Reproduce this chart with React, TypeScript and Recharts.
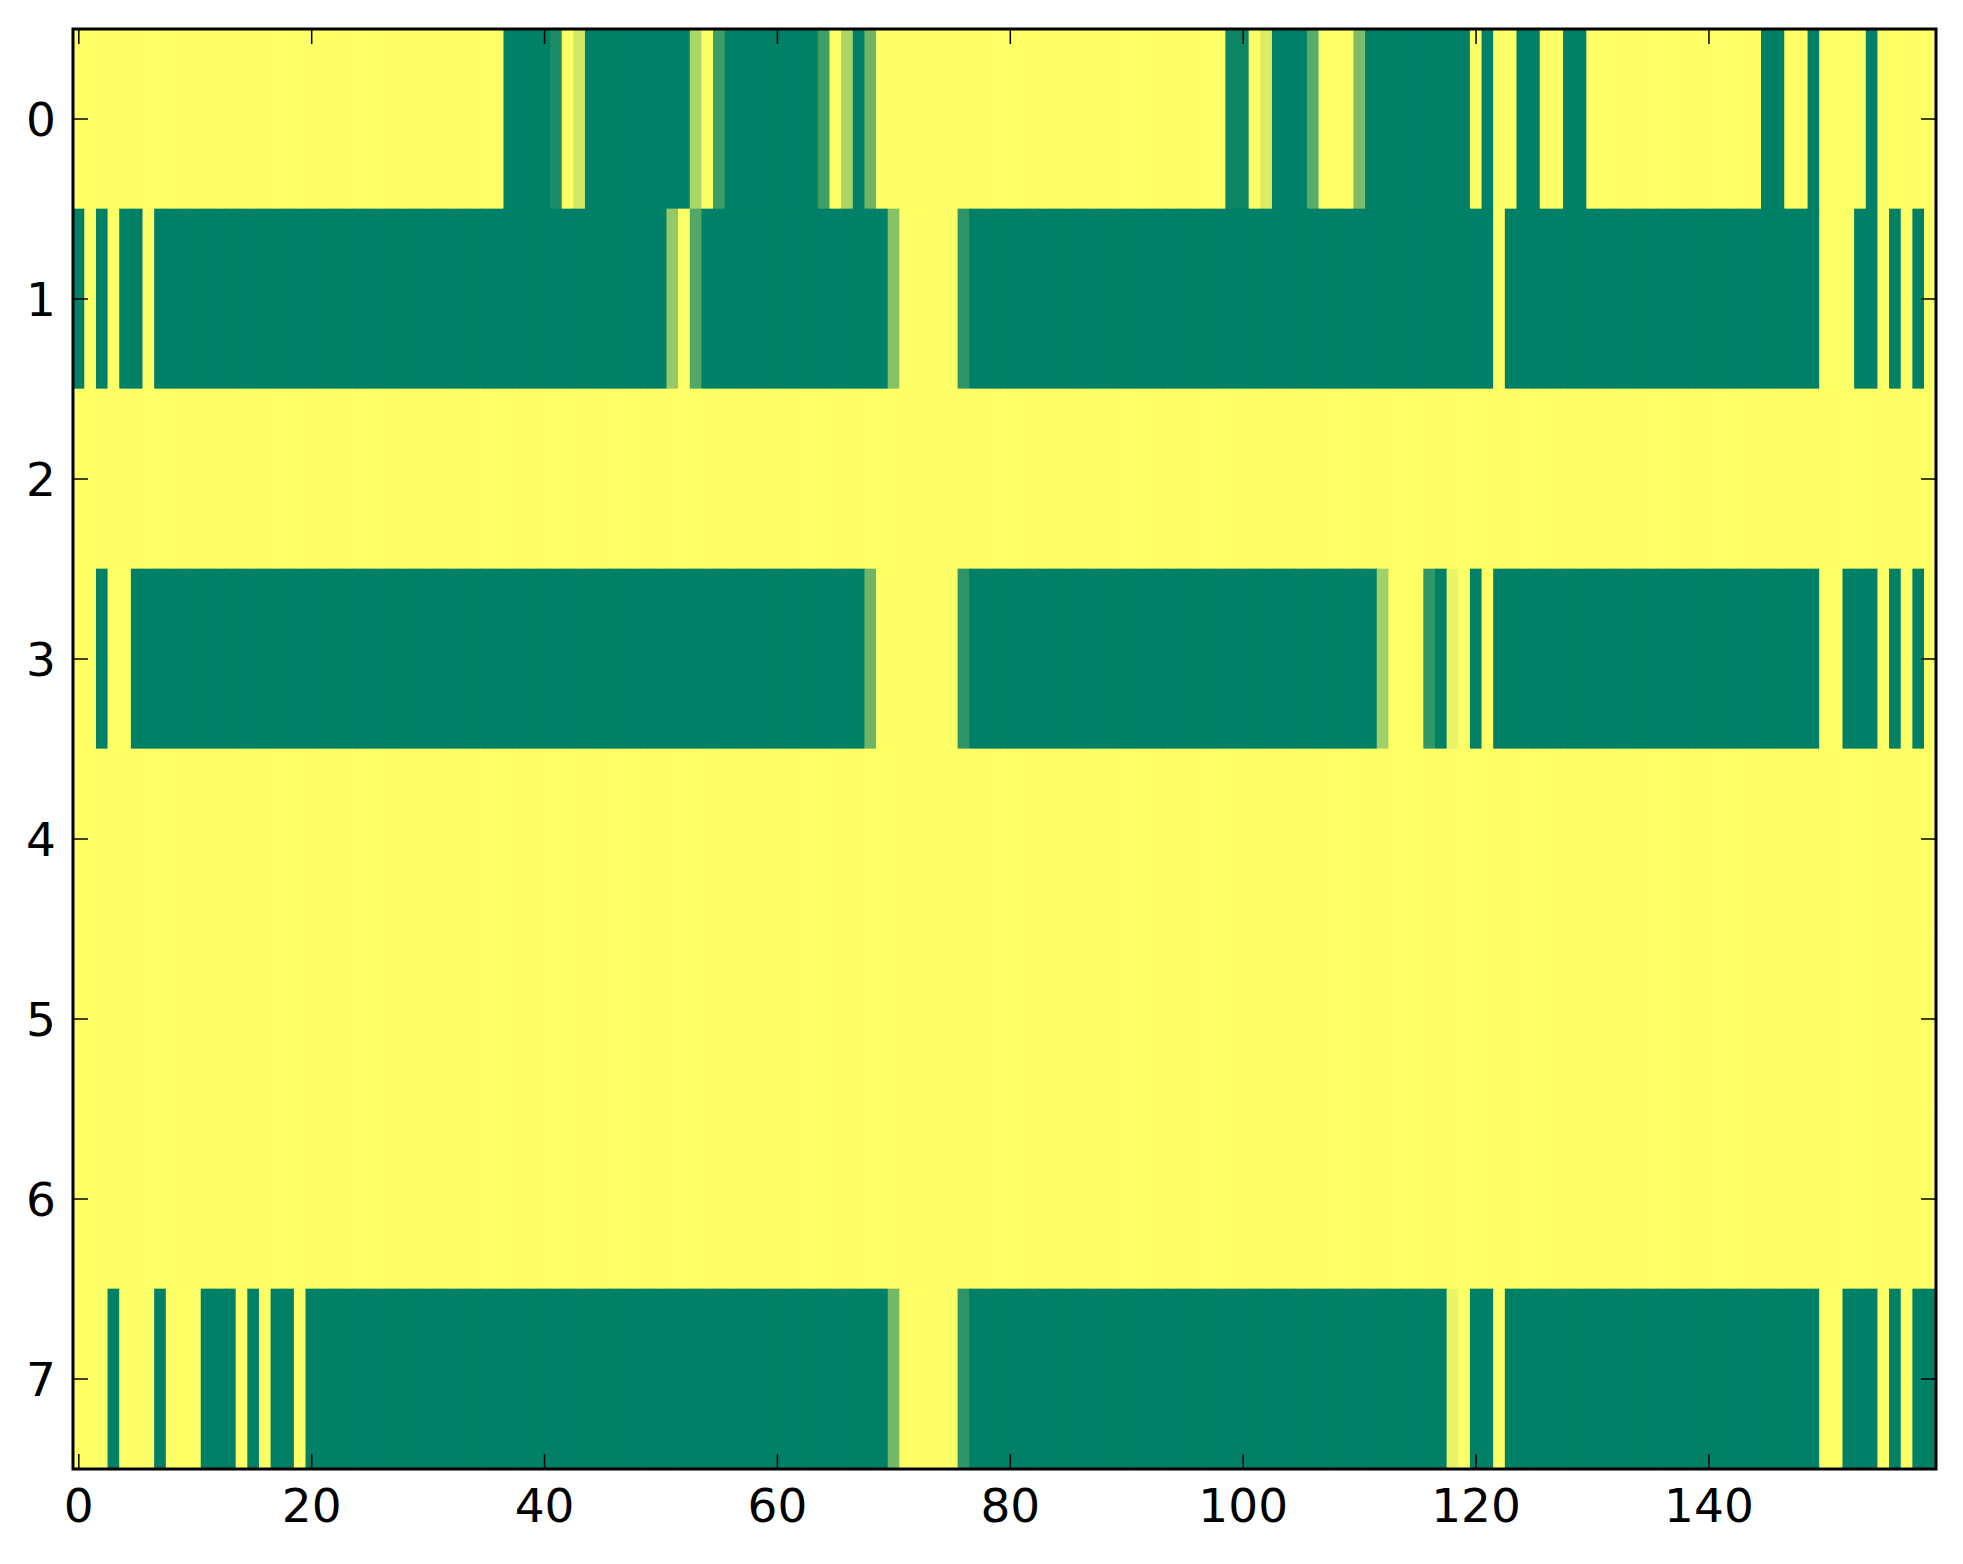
import React from 'react';
import { ScatterChart, Scatter, XAxis, YAxis } from 'recharts';

// ---- data: heatmap values (0 = dark green, 1 = yellow), one array per row ----
const row0 = [
  1,1,1,1,1,1,1,1,1,1,1,1,1,1,1,1,1,1,1,1,
  1,1,1,1,1,1,1,1,1,1,1,1,1,1,1,1,1,0,0,0,
  0,0.1,1,0.82,0,0,0,0,0,0,0,0,0,0.67,1,0.24,0,0,0,0,
  0,0,0,0,0.24,1,0.67,0,0.43,1,1,1,1,1,1,1,1,1,1,1,
  1,1,1,1,1,1,1,1,1,1,1,1,1,1,1,1,1,1,1,0.05,
  0.05,1,0.86,0,0,0,0.35,1,1,1,0.48,0,0,0,0,0,0,0,0,0,
  1,0,1,1,0,0,1,1,0,0,1,1,1,1,1,1,1,1,1,1,
  1,1,1,1,1,0,0,1,1,0,1,1,1,1,0,1,1,1,1,1,
];
const row1 = [
  0,1,0,1,0,0,1,0,0,0,0,0,0,0,0,0,0,0,0,0,
  0,0,0,0,0,0,0,0,0,0,0,0,0,0,0,0,0,0,0,0,
  0,0,0,0,0,0,0,0,0,0,0,0.58,1,0.32,0,0,0,0,0,0,
  0,0,0,0,0,0,0,0,0,0,0.53,1,1,1,1,1,0.18,0,0,0,
  0,0,0,0,0,0,0,0,0,0,0,0,0,0,0,0,0,0,0,0,
  0,0,0,0,0,0,0,0,0,0,0,0,0,0,0,0,0,0,0,0,
  0,0,1,0,0,0,0,0,0,0,0,0,0,0,0,0,0,0,0,0,
  0,0,0,0,0,0,0,0,0,0,1,1,1,0,0,1,0,1,0,1,
];
const row2 = [
  1,1,1,1,1,1,1,1,1,1,1,1,1,1,1,1,1,1,1,1,
  1,1,1,1,1,1,1,1,1,1,1,1,1,1,1,1,1,1,1,1,
  1,1,1,1,1,1,1,1,1,1,1,1,1,1,1,1,1,1,1,1,
  1,1,1,1,1,1,1,1,1,1,1,1,1,1,1,1,1,1,1,1,
  1,1,1,1,1,1,1,1,1,1,1,1,1,1,1,1,1,1,1,1,
  1,1,1,1,1,1,1,1,1,1,1,1,1,1,1,1,1,1,1,1,
  1,1,1,1,1,1,1,1,1,1,1,1,1,1,1,1,1,1,1,1,
  1,1,1,1,1,1,1,1,1,1,1,1,1,1,1,1,1,1,1,1,
];
const row3 = [
  1,1,0,1,1,0,0,0,0,0,0,0,0,0,0,0,0,0,0,0,
  0,0,0,0,0,0,0,0,0,0,0,0,0,0,0,0,0,0,0,0,
  0,0,0,0,0,0,0,0,0,0,0,0,0,0,0,0,0,0,0,0,
  0,0,0,0,0,0,0,0,0.43,1,1,1,1,1,1,1,0.18,0,0,0,
  0,0,0,0,0,0,0,0,0,0,0,0,0,0,0,0,0,0,0,0,
  0,0,0,0,0,0,0,0,0,0,0,0,0.63,1,1,1,0.19,0,0.91,1,
  0,1,0,0,0,0,0,0,0,0,0,0,0,0,0,0,0,0,0,0,
  0,0,0,0,0,0,0,0,0,0,1,1,0,0,0,1,0,1,0,1,
];
const row4 = [
  1,1,1,1,1,1,1,1,1,1,1,1,1,1,1,1,1,1,1,1,
  1,1,1,1,1,1,1,1,1,1,1,1,1,1,1,1,1,1,1,1,
  1,1,1,1,1,1,1,1,1,1,1,1,1,1,1,1,1,1,1,1,
  1,1,1,1,1,1,1,1,1,1,1,1,1,1,1,1,1,1,1,1,
  1,1,1,1,1,1,1,1,1,1,1,1,1,1,1,1,1,1,1,1,
  1,1,1,1,1,1,1,1,1,1,1,1,1,1,1,1,1,1,1,1,
  1,1,1,1,1,1,1,1,1,1,1,1,1,1,1,1,1,1,1,1,
  1,1,1,1,1,1,1,1,1,1,1,1,1,1,1,1,1,1,1,1,
];
const row5 = [
  1,1,1,1,1,1,1,1,1,1,1,1,1,1,1,1,1,1,1,1,
  1,1,1,1,1,1,1,1,1,1,1,1,1,1,1,1,1,1,1,1,
  1,1,1,1,1,1,1,1,1,1,1,1,1,1,1,1,1,1,1,1,
  1,1,1,1,1,1,1,1,1,1,1,1,1,1,1,1,1,1,1,1,
  1,1,1,1,1,1,1,1,1,1,1,1,1,1,1,1,1,1,1,1,
  1,1,1,1,1,1,1,1,1,1,1,1,1,1,1,1,1,1,1,1,
  1,1,1,1,1,1,1,1,1,1,1,1,1,1,1,1,1,1,1,1,
  1,1,1,1,1,1,1,1,1,1,1,1,1,1,1,1,1,1,1,1,
];
const row6 = [
  1,1,1,1,1,1,1,1,1,1,1,1,1,1,1,1,1,1,1,1,
  1,1,1,1,1,1,1,1,1,1,1,1,1,1,1,1,1,1,1,1,
  1,1,1,1,1,1,1,1,1,1,1,1,1,1,1,1,1,1,1,1,
  1,1,1,1,1,1,1,1,1,1,1,1,1,1,1,1,1,1,1,1,
  1,1,1,1,1,1,1,1,1,1,1,1,1,1,1,1,1,1,1,1,
  1,1,1,1,1,1,1,1,1,1,1,1,1,1,1,1,1,1,1,1,
  1,1,1,1,1,1,1,1,1,1,1,1,1,1,1,1,1,1,1,1,
  1,1,1,1,1,1,1,1,1,1,1,1,1,1,1,1,1,1,1,1,
];
const row7 = [
  1,1,1,0,1,1,1,0,1,1,1,0,0,0,1,0,1,0,0,1,
  0,0,0,0,0,0,0,0,0,0,0,0,0,0,0,0,0,0,0,0,
  0,0,0,0,0,0,0,0,0,0,0,0,0,0,0,0,0,0,0,0,
  0,0,0,0,0,0,0,0,0,0,0.45,1,1,1,1,1,0.18,0,0,0,
  0,0,0,0,0,0,0,0,0,0,0,0,0,0,0,0,0,0,0,0,
  0,0,0,0,0,0,0,0,0,0,0,0,0,0,0,0,0,0,0.91,1,
  0,0,1,0,0,0,0,0,0,0,0,0,0,0,0,0,0,0,0,0,
  0,0,0,0,0,0,0,0,0,0,1,1,0,0,0,1,0,1,0,0,
];
const ROWS = [row0, row1, row2, row3, row4, row5, row6, row7];
const X_TICKS = [0, 20, 40, 60, 80, 100, 120, 140];
const Y_TICKS = [0, 1, 2, 3, 4, 5, 6, 7];

// ---- layout ----
const W = 1947;
const H = 1548;
const MARGIN = { top: 21, right: 19, bottom: 27, left: 20 };
const Y_AXIS_W = 45;
const X_AXIS_H = 60;
const N_COLS = row0.length;
const N_ROWS = ROWS.length;
const X_MIN = -0.5;
const X_MAX = N_COLS - 0.5;
const Y_MIN = -0.5;
const Y_MAX = N_ROWS - 0.5;
const PLOT_W = W - MARGIN.left - MARGIN.right - Y_AXIS_W;
const PLOT_H = H - MARGIN.top - MARGIN.bottom - X_AXIS_H;
const CELL_W = PLOT_W / N_COLS;
const CELL_H = PLOT_H / N_ROWS;
const FONT = 'DejaVu Sans';
const FS = 47;
const TICK_LEN = 15;

// matplotlib "summer" colormap
const summer = (v: number) =>
  `rgb(${Math.round(255 * v)}, ${Math.round(255 * (0.5 + 0.5 * v))}, 102)`;

const cells = ROWS.flatMap((r, yi) => r.map((v, xi) => ({ x: xi, y: yi, v })));

// tick marks (drawn inside the frame, on top of the image)
const tickMarks = [
  ...X_TICKS.map((x) => ({ x, y: Y_MAX, kind: 'bottom' })),
  ...X_TICKS.map((x) => ({ x, y: Y_MIN, kind: 'top' })),
  ...Y_TICKS.map((y) => ({ x: X_MIN, y, kind: 'left' })),
  ...Y_TICKS.map((y) => ({ x: X_MAX, y, kind: 'right' })),
];
const frameCorner = [{ x: X_MIN, y: Y_MIN }];

const CellShape = (props: any) => {
  const { cx, cy, payload } = props;
  if (cx == null || cy == null) return null;
  return (
    <rect
      x={cx - CELL_W / 2 - 0.35}
      y={cy - CELL_H / 2 - 0.35}
      width={CELL_W + 0.7}
      height={CELL_H + 0.7}
      fill={summer(payload.v)}
      stroke="none"
    />
  );
};

const TickMarkShape = (props: any) => {
  const { cx, cy, payload } = props;
  if (cx == null || cy == null) return null;
  let x2 = cx;
  let y2 = cy;
  if (payload.kind === 'bottom') y2 = cy - TICK_LEN;
  if (payload.kind === 'top') y2 = cy + TICK_LEN;
  if (payload.kind === 'left') x2 = cx + TICK_LEN;
  if (payload.kind === 'right') x2 = cx - TICK_LEN;
  return <line x1={cx} y1={cy} x2={x2} y2={y2} stroke="#000" strokeWidth={1.5} />;
};

const FrameShape = (props: any) => {
  const { cx, cy } = props;
  if (cx == null || cy == null) return null;
  return (
    <rect x={cx} y={cy} width={PLOT_W} height={PLOT_H} fill="none" stroke="#000" strokeWidth={3} />
  );
};

const BottomLabel = (props: any) => {
  const { x, y, payload } = props;
  return (
    <text x={x} y={y + 53} textAnchor="middle" fontSize={FS} fontFamily={FONT} fill="#000">
      {payload.value}
    </text>
  );
};

const LeftLabel = (props: any) => {
  const { x, y, payload } = props;
  return (
    <text x={x - 17} y={y + 17} textAnchor="end" fontSize={FS} fontFamily={FONT} fill="#000">
      {payload.value}
    </text>
  );
};

export default function App() {
  return (
    <div style={{ width: W, height: H, background: '#fff' }}>
      <ScatterChart width={W} height={H} margin={MARGIN}>
        <XAxis
          xAxisId="bottom"
          type="number"
          dataKey="x"
          orientation="bottom"
          domain={[X_MIN, X_MAX]}
          ticks={X_TICKS}
          height={X_AXIS_H}
          tickSize={0}
          tickMargin={0}
          tickLine={false}
          axisLine={false}
          tick={<BottomLabel />}
          interval={0}
        />
        <YAxis
          yAxisId="left"
          type="number"
          dataKey="y"
          orientation="left"
          domain={[Y_MIN, Y_MAX]}
          reversed
          ticks={Y_TICKS}
          width={Y_AXIS_W}
          tickSize={0}
          tickMargin={0}
          tickLine={false}
          axisLine={false}
          tick={<LeftLabel />}
          interval={0}
        />
        <Scatter
          data={cells}
          xAxisId="bottom"
          yAxisId="left"
          shape={CellShape}
          isAnimationActive={false}
        />
        <Scatter
          data={tickMarks}
          xAxisId="bottom"
          yAxisId="left"
          shape={TickMarkShape}
          isAnimationActive={false}
        />
        <Scatter
          data={frameCorner}
          xAxisId="bottom"
          yAxisId="left"
          shape={FrameShape}
          isAnimationActive={false}
        />
      </ScatterChart>
    </div>
  );
}
